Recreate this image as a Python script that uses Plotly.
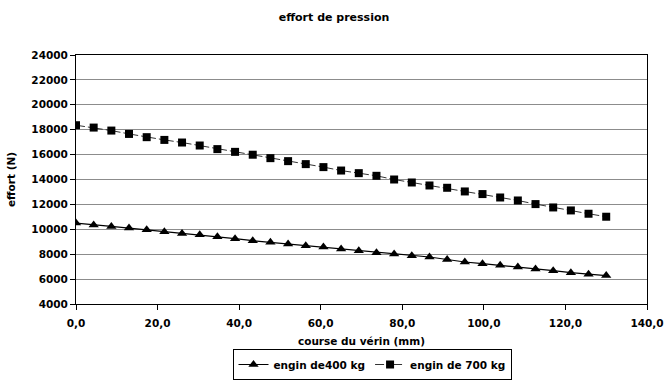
import plotly.graph_objects as go

course_mm = [round(i * 130 / 30, 3) for i in range(31)]
engin_400 = [10500, 10340, 10230, 10100, 9965, 9805, 9670, 9565, 9405, 9245, 9085,
             8950, 8820, 8680, 8580, 8420, 8280, 8120, 8015, 7880, 7775,
             7575, 7375, 7240, 7110, 6975, 6815, 6680, 6520, 6390, 6280]
engin_700 = [18360, 18170, 17930, 17660, 17400, 17180, 16970, 16730, 16440, 16220, 15990,
             15715, 15475, 15235, 14995, 14720, 14510, 14296, 14000, 13760, 13520,
             13335, 13040, 12830, 12555, 12315, 12025, 11755, 11515, 11250, 11010]
x_ticks = [0, 20, 40, 60, 80, 100, 120, 140]
x_ticktext = ["0,0", "20,0", "40,0", "60,0", "80,0", "100,0", "120,0", "140,0"]
y_ticks = list(range(4000, 24001, 2000))

FONT = "DejaVu Sans, Arial, sans-serif"

fig = go.Figure()
fig.add_trace(go.Scatter(
    x=course_mm, y=engin_400, name="engin de400 kg", mode="lines+markers",
    line=dict(color="black", width=1.2),
    marker=dict(symbol="triangle-up", size=9, color="black"),
))
fig.add_trace(go.Scatter(
    x=course_mm, y=engin_700, name="engin de 700 kg", mode="lines+markers",
    line=dict(color="#333333", width=1, dash="dashdot"),
    marker=dict(symbol="square", size=8, color="black"),
))

fig.update_layout(
    width=668, height=381,
    margin=dict(l=76, r=21, t=55, b=77, autoexpand=False),
    paper_bgcolor="white", plot_bgcolor="white",
    font=dict(family=FONT, size=10.5, color="black", weight="bold"),
    title=dict(text="effort de pression", x=0.5, xanchor="center",
               y=1 - 17 / 381, yanchor="middle", yref="container",
               font=dict(family=FONT, size=11, color="black", weight="bold")),
    xaxis=dict(
        range=[0, 140], tickvals=x_ticks, ticktext=x_ticktext,
        showgrid=False, zeroline=False, automargin=False,
        showline=True, linecolor="black", linewidth=1, mirror=True,
        ticks="outside", ticklen=5, tickcolor="black", ticklabelstandoff=4,
        title=dict(text="course du vérin (mm)", standoff=10,
                   font=dict(family=FONT, size=10.5, color="black", weight="bold")),
        tickfont=dict(family=FONT, size=10.5, color="black", weight="bold"),
    ),
    yaxis=dict(
        range=[4000, 24000], tickvals=y_ticks, tickformat="d",
        showgrid=True, gridcolor="#8c8c8c", gridwidth=1, zeroline=False, automargin=False,
        showline=True, linecolor="black", linewidth=1, mirror=True,
        ticks="outside", ticklen=5, tickcolor="black",
        title=dict(text="effort (N)", standoff=13,
                   font=dict(family=FONT, size=10.5, color="black", weight="bold")),
        tickfont=dict(family=FONT, size=10.5, color="black", weight="bold"),
    ),
    showlegend=True,
    legend=dict(
        orientation="h", xref="container", yref="container",
        x=372 / 668, xanchor="center", y=1 - 349 / 381, yanchor="top",
        bordercolor="black", borderwidth=1, bgcolor="white",
        font=dict(family=FONT, size=10.5, color="black", weight="bold"),
        itemwidth=30, tracegroupgap=0,
    ),
)

fig.write_html("out.html")
